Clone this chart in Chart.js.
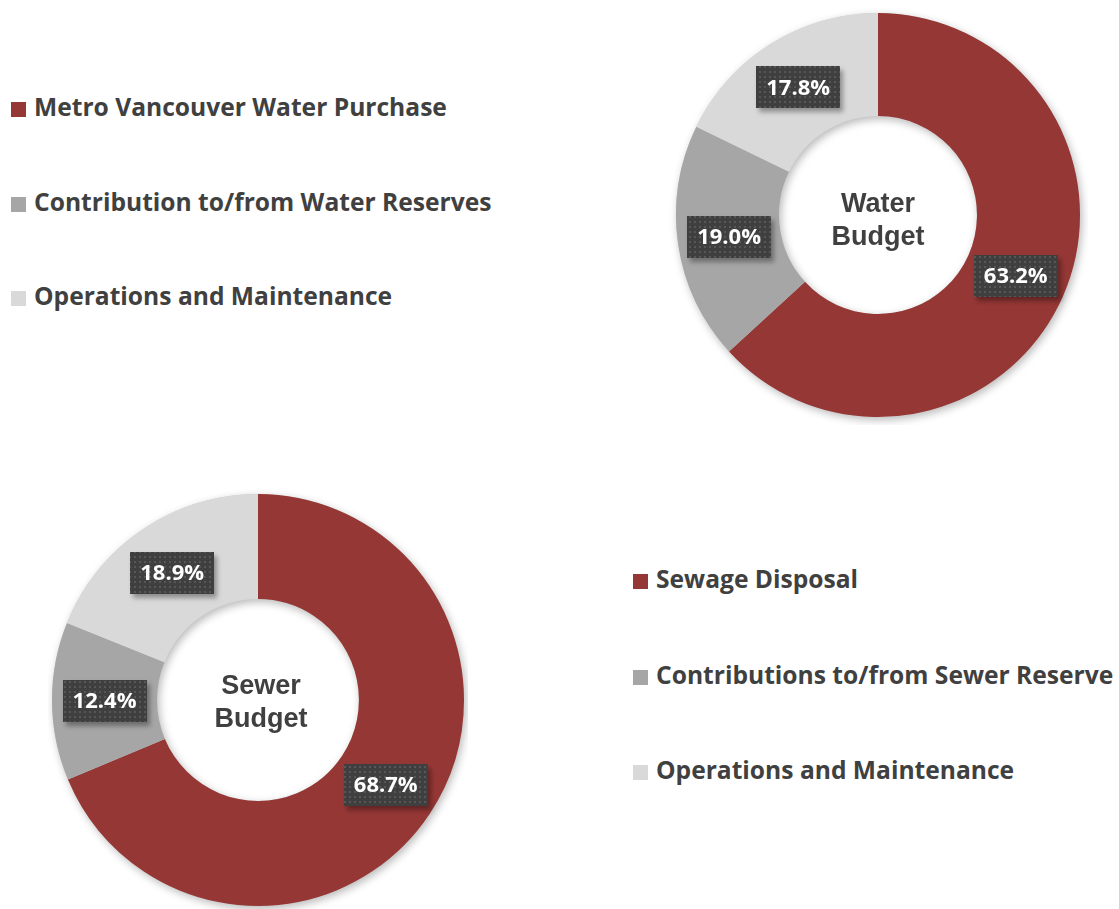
<!DOCTYPE html>
<html>
<head>
<meta charset="utf-8">
<title>Water and Sewer Budget</title>
<script src="https://cdn.jsdelivr.net/npm/chart.js@4.4.1/dist/chart.umd.min.js"></script>
<style>
  html, body { margin: 0; padding: 0; background: #fff; }
  body { width: 1119px; height: 909px; position: relative; overflow: hidden; }
  .wrap { position: absolute; }
  .legend { position: absolute; font-family: "Open Sans", Lato, sans-serif; font-weight: bold; font-size: 24.6px; color: #404040; }
  .legend .row { position: absolute; left: 0; white-space: nowrap; line-height: 28px; }
  .legend .sw { display: inline-block; width: 15px; height: 15px; margin-right: 8px; vertical-align: -1px; }
</style>
</head>
<body>
<div class="wrap" id="waterWrap" style="left:668px; top:5px;"><canvas id="waterChart" width="420" height="420"></canvas></div>
<div class="wrap" id="sewerWrap" style="left:48px; top:490px;"><canvas id="sewerChart" width="420" height="420"></canvas></div>
<div class="legend" id="waterLegend" style="left:11px; top:93px;"></div>
<div class="legend" id="sewerLegend" style="left:633px; top:565px;"></div>

<script>
// --- 1. DATA ---
const waterLabels = ['Metro Vancouver Water Purchase', 'Contribution to/from Water Reserves', 'Operations and Maintenance'];
const waterValues = [63.2, 19.0, 17.8];
const waterCenter = ['Water', 'Budget'];

const sewerLabels = ['Sewage Disposal', 'Contributions to/from Sewer Reserve', 'Operations and Maintenance'];
const sewerValues = [68.7, 12.4, 18.9];
const sewerCenter = ['Sewer', 'Budget'];

const sliceColors = ['#953735', '#a6a6a6', '#d9d9d9'];

// --- 2. HELPERS ---
// small dotted fill used behind the percentage labels
function makeDotPattern(ctx) {
    const c = document.createElement('canvas');
    c.width = 5; c.height = 5;
    const p = c.getContext('2d');
    p.fillStyle = '#3f3f3f';
    p.fillRect(0, 0, 5, 5);
    p.fillStyle = '#575757';
    p.fillRect(1, 1, 2, 2);
    return ctx.createPattern(c, 'repeat');
}

// soft shadow under the ring
const ringShadow = {
    id: 'ringShadow',
    beforeDatasetsDraw(chart) {
        const arc = chart.getDatasetMeta(0).data[0];
        if (!arc) return;
        const ctx = chart.ctx;
        ctx.save();
        ctx.shadowColor = 'rgba(0,0,0,0.28)';
        ctx.shadowBlur = 8;
        ctx.shadowOffsetX = 2;
        ctx.shadowOffsetY = 3;
        ctx.fillStyle = '#cccccc';
        ctx.beginPath();
        ctx.arc(arc.x, arc.y, arc.outerRadius, 0, Math.PI * 2);
        ctx.arc(arc.x, arc.y, arc.innerRadius, 0, Math.PI * 2, true);
        ctx.fill();
        ctx.restore();
    }
};

// dark boxed percentage labels sitting on each slice
const boxLabels = {
    id: 'boxLabels',
    afterDatasetsDraw(chart) {
        const ctx = chart.ctx;
        const pattern = makeDotPattern(ctx);
        const values = chart.data.datasets[0].data;
        chart.getDatasetMeta(0).data.forEach((arc, i) => {
            const pt = arc.getCenterPoint();
            const txt = values[i].toFixed(1) + '%';
            ctx.save();
            ctx.font = 'bold 22px "Open Sans", Lato, sans-serif';
            const w = ctx.measureText(txt).width + 20;
            const h = 42;
            ctx.shadowColor = 'rgba(0,0,0,0.35)';
            ctx.shadowBlur = 5;
            ctx.shadowOffsetX = 3;
            ctx.shadowOffsetY = 4;
            ctx.fillStyle = pattern;
            ctx.fillRect(Math.round(pt.x - w / 2), Math.round(pt.y - h / 2), Math.round(w), h);
            ctx.shadowColor = 'transparent';
            ctx.fillStyle = '#ffffff';
            ctx.textAlign = 'center';
            ctx.textBaseline = 'middle';
            ctx.fillText(txt, pt.x, pt.y + 1);
            ctx.restore();
        });
    }
};

// two line title in the hole
const centerText = {
    id: 'centerText',
    afterDraw(chart, args, opts) {
        const arc = chart.getDatasetMeta(0).data[0];
        if (!arc || !opts.lines) return;
        const ctx = chart.ctx;
        ctx.save();
        ctx.font = 'bold 27px "Liberation Sans", Arial, sans-serif';
        ctx.fillStyle = '#404040';
        ctx.textAlign = 'center';
        ctx.textBaseline = 'middle';
        ctx.fillText(opts.lines[0], arc.x + opts.dx, arc.y - 13 + opts.dy);
        ctx.fillText(opts.lines[1], arc.x + opts.dx, arc.y + 20 + opts.dy);
        ctx.restore();
    }
};

// --- 3. CHARTS ---
function makeDonut(canvasId, labels, values, center, pad, dx, dy) {
    return new Chart(document.getElementById(canvasId), {
        type: 'doughnut',
        data: {
            labels: labels,
            datasets: [{
                data: values,
                backgroundColor: sliceColors,
                borderWidth: 0
            }]
        },
        options: {
            responsive: false,
            animation: false,
            cutout: '49%',
            layout: { padding: pad },
            plugins: {
                legend: { display: false },
                tooltip: { enabled: false },
                centerText: { lines: center, dx: dx, dy: dy }
            }
        },
        plugins: [ringShadow, boxLabels, centerText]
    });
}

makeDonut('waterChart', waterLabels, waterValues, waterCenter, 8, 0, 3);
makeDonut('sewerChart', sewerLabels, sewerValues, sewerCenter, 4, 3, 0);

// --- 4. LEGENDS ---
function buildLegend(elId, labels, gap) {
    const el = document.getElementById(elId);
    labels.forEach((lbl, i) => {
        const row = document.createElement('div');
        row.className = 'row';
        row.style.top = (i * gap) + 'px';
        row.innerHTML = '<span class="sw" style="background:' + sliceColors[i] + '"></span>' + lbl;
        el.appendChild(row);
    });
}

buildLegend('waterLegend', waterLabels, 94.5);
buildLegend('sewerLegend', sewerLabels, 95.5);
</script>
</body>
</html>
